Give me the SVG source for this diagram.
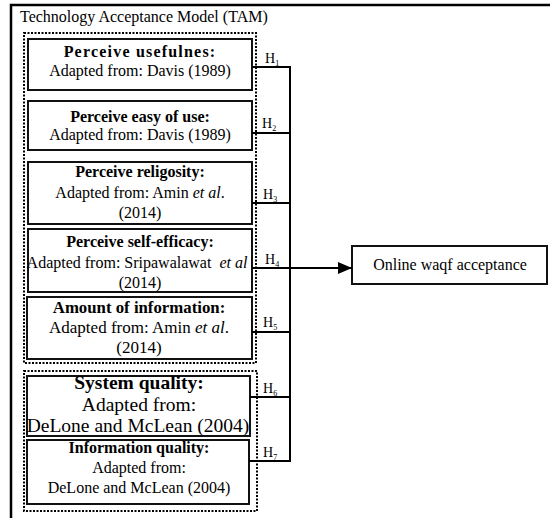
<svg xmlns="http://www.w3.org/2000/svg" width="551" height="518" viewBox="0 0 551 518">
<style>
text{font-family:"Liberation Serif","Times New Roman",serif;fill:#000;}
.t{font-size:16px;text-anchor:middle;}
.b{font-weight:bold;}
.box{fill:#fff;stroke:#111;stroke-width:2;}
.grp{fill:none;stroke:#000;stroke-width:2;stroke-dasharray:2 1.5;}
.ln{fill:none;stroke:#000;stroke-width:2;}
.h{font-size:14px;}
.sub{font-size:8px;}
</style>
<defs>
<marker id="arr" markerWidth="14" markerHeight="12" refX="14" refY="6" orient="auto" markerUnits="userSpaceOnUse">
<path d="M0,0 L14,6 L0,12 Z" fill="#000"/>
</marker>
</defs>
<g id="frame">
<path d="M11,518 V5 H550" fill="none" stroke="#000" stroke-width="2.5"/>
<text x="20" y="22" style="font-size:16px">Technology Acceptance Model (TAM)</text>
</g>
<g id="tam-group"><rect class="grp" x="24" y="33" width="232" height="330"/></g>
<g id="is-group"><rect class="grp" x="24" y="371" width="233" height="140"/></g>
<g id="n1">
<rect class="box" x="28" y="39" width="224" height="51"/>
<text class="t b" x="140" y="57" letter-spacing="1.2">Perceive usefulnes:</text>
<text class="t" x="140" y="76">Adapted from: Davis (1989)</text>
</g>
<g id="n2">
<rect class="box" x="28" y="101" width="224" height="49"/>
<text class="t b" x="140" y="122">Perceive easy of use:</text>
<text class="t" x="140" y="140">Adapted from: Davis (1989)</text>
</g>
<g id="n3">
<rect class="box" x="28" y="162" width="224" height="62"/>
<text class="t b" x="140" y="177">Perceive religosity:</text>
<text class="t" x="140" y="198">Adapted from: Amin <tspan font-style="italic">et al</tspan>.</text>
<text class="t" x="140" y="218">(2014)</text>
</g>
<g id="n4">
<rect class="box" x="28" y="229" width="224" height="63"/>
<text class="t b" x="140" y="247">Perceive self-efficacy:</text>
<text class="t" x="137" y="268" xml:space="preserve">Adapted from: Sripawalawat  <tspan font-style="italic">et al</tspan></text>
<text class="t" x="140" y="288">(2014)</text>
</g>
<g id="n5">
<rect class="box" x="27" y="297" width="225" height="62"/>
<text class="t b" x="139" y="313" style="font-size:16.8px">Amount of information:</text>
<text class="t" x="139" y="333" style="font-size:17px">Adapted from: Amin <tspan font-style="italic">et al</tspan>.</text>
<text class="t" x="139" y="353" style="font-size:17px">(2014)</text>
</g>
<g id="n6">
<rect class="box" x="27" y="376" width="223" height="60"/>
<text class="t b" x="139" y="389" style="font-size:19.5px">System quality:</text>
<text class="t" x="139" y="411" style="font-size:19.5px">Adapted from:</text>
<text class="t" x="138" y="432" style="font-size:19.5px">DeLone and McLean (2004)</text>
</g>
<g id="n7">
<rect class="box" x="27" y="440" width="222" height="64"/>
<text class="t b" x="139" y="453">Information quality:</text>
<text class="t" x="139" y="473">Adapted from:</text>
<text class="t" x="139" y="493">DeLone and McLean (2004)</text>
</g>
<g id="target">
<rect class="box" x="352" y="246" width="195" height="38"/>
<text class="t" x="450" y="270">Online waqf acceptance</text>
</g>
<g id="connectors">
<path class="ln" d="M252,67 H290 M252,133 H290 M252,203 H290 M252,268 H290 M252,332 H290 M250,397 H290 M249,461 H290 M290,66 V462"/>
<path class="ln" d="M290,268 H352" marker-end="url(#arr)"/>
<text class="h" x="265" y="63">H<tspan class="sub" dy="3">1</tspan></text>
<text class="h" x="262" y="128">H<tspan class="sub" dy="3">2</tspan></text>
<text class="h" x="263" y="199">H<tspan class="sub" dy="3">3</tspan></text>
<text class="h" x="265" y="264">H<tspan class="sub" dy="3">4</tspan></text>
<text class="h" x="263" y="327">H<tspan class="sub" dy="3">5</tspan></text>
<text class="h" x="263" y="393">H<tspan class="sub" dy="3">6</tspan></text>
<text class="h" x="263" y="457">H<tspan class="sub" dy="3">7</tspan></text>
</g>
</svg>
